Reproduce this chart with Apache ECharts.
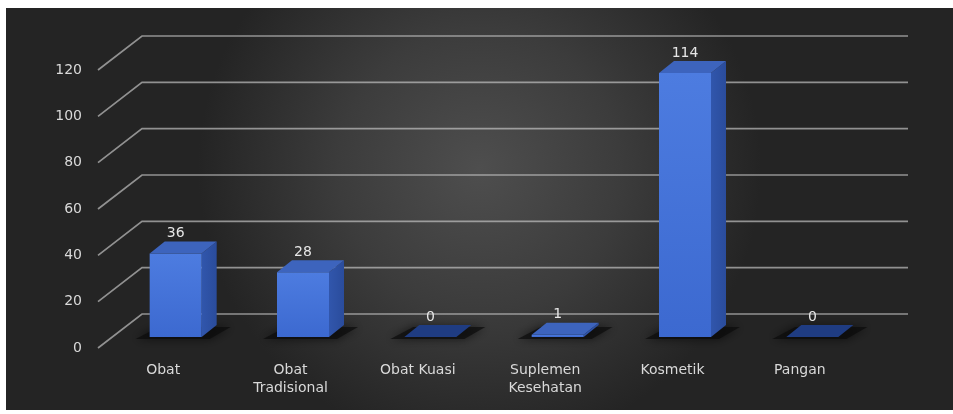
<!DOCTYPE html>
<html>
<head>
<meta charset="utf-8">
<script src="https://cdn.jsdelivr.net/npm/echarts@6/dist/echarts.min.js"></script>
<style>
  html, body { margin: 0; padding: 0; background: #ffffff; }
  #chart { width: 953px; height: 414px; }
</style>
</head>
<body>
<div id="chart"></div>
<script>
// Product categories and their counts
const categories = ['Obat', 'Obat\nTradisional', 'Obat Kuasi', 'Suplemen\nKesehatan', 'Kosmetik', 'Pangan'];
const counts = [36, 28, 0, 1, 114, 0];
const yTicks = [0, 20, 40, 60, 80, 100, 120];

// pseudo-3D offsets (pixels)
const DEPTH = [15, -12];        // bar depth
const WALL_BACK = [30, -23];    // from bar plane to back wall
const WALL_FRONT = [-14, 11];   // from bar plane to front edge of the floor
const BAR_W = 52;

const FONT = 'DejaVu Sans';
const TEXT_COLOR = '#d9d9d9';

const chart = echarts.init(document.getElementById('chart'));

function poly(points, style, z2) {
  return { type: 'polygon', shape: { points: points }, style: style, z2: z2 || 0 };
}

const option = {
  animation: false,
  backgroundColor: '#ffffff',
  graphic: [{
    type: 'rect',
    z: -10,
    shape: { x: 6, y: 8, width: 947, height: 402 },
    style: {
      fill: new echarts.graphic.RadialGradient(0.5, 0.4, 0.7, [
        { offset: 0, color: '#4e4e4e' },
        { offset: 0.5, color: '#3c3c3c' },
        { offset: 1, color: '#242424' }
      ])
    },
    silent: true
  }],
  grid: [
    // plane of the bar fronts
    { left: 112, right: 77, top: 59, bottom: 77 },
    // front edge of the floor, where the value ticks sit
    { left: 112 + WALL_FRONT[0], right: 77, top: 59 + WALL_FRONT[1], bottom: 77 - WALL_FRONT[1] }
  ],
  xAxis: [
    {
      type: 'category',
      gridIndex: 0,
      data: categories,
      axisLine: { show: false },
      axisTick: { show: false },
      axisLabel: {
        color: TEXT_COLOR,
        fontFamily: FONT,
        fontSize: 14,
        lineHeight: 18,
        margin: 24,
        padding: [0, 25, 0, 0]
      }
    },
    { type: 'category', gridIndex: 1, data: categories, show: false }
  ],
  yAxis: [
    {
      type: 'value',
      gridIndex: 0,
      min: 0, max: 120, interval: 20,
      show: false
    },
    {
      type: 'value',
      gridIndex: 1,
      min: 0, max: 120, interval: 20,
      axisLine: { show: false },
      axisTick: { show: false },
      splitLine: { show: false },
      axisLabel: {
        color: TEXT_COLOR,
        fontFamily: FONT,
        fontSize: 14,
        margin: 16
      }
    }
  ],
  series: [
    {
      // floor / back-wall gridlines
      type: 'custom',
      xAxisIndex: 0, yAxisIndex: 0,
      z: 1,
      silent: true,
      data: yTicks.map(v => [0, v]),
      renderItem: function (params, api) {
        const cs = params.coordSys;
        const y = api.coord([0, api.value(1)])[1];
        const fx = cs.x + WALL_FRONT[0], fy = y + WALL_FRONT[1];
        const bx = cs.x + WALL_BACK[0], by = y + WALL_BACK[1];
        const ex = cs.x + cs.width + 32;
        return {
          type: 'polyline',
          shape: { points: [[fx, fy], [bx, by], [ex, by]] },
          style: { stroke: 'rgba(205,205,205,0.65)', lineWidth: 1.7, fill: null }
        };
      }
    },
    {
      // 3D bars
      type: 'custom',
      xAxisIndex: 0, yAxisIndex: 0,
      z: 2,
      data: counts.map((v, i) => [i, v]),
      renderItem: function (params, api) {
        const i = api.value(0), v = api.value(1);
        const base = api.coord([i, 0]);
        const top = api.coord([i, v]);
        const xL = base[0] - BAR_W / 2, xR = base[0] + BAR_W / 2;
        const y0 = base[1], y1 = top[1];
        const dx = DEPTH[0], dy = DEPTH[1];
        const children = [];
        // soft shadow on the floor
        children.push(poly(
          [[xL - 14, y0 + 2], [xR + 8, y0 + 2], [xR + dx + 14, y0 + dy + 2], [xL + dx - 6, y0 + dy + 2]],
          { fill: 'rgba(12,12,12,0.7)', shadowBlur: 10, shadowColor: 'rgba(0,0,0,0.85)' }, 0));
        if (v > 0) {
          // front face
          children.push({
            type: 'rect', z2: 3,
            shape: { x: xL, y: y1, width: BAR_W, height: y0 - y1 },
            style: {
              fill: new echarts.graphic.LinearGradient(0, 0, 0, 1, [
                { offset: 0, color: '#4d7ce0' },
                { offset: 1, color: '#3c69d0' }
              ])
            }
          });
          // right side face
          children.push(poly(
            [[xR, y1], [xR + dx, y1 + dy], [xR + dx, y0 + dy], [xR, y0]],
            {
              fill: new echarts.graphic.LinearGradient(0, 0, 1, 0, [
                { offset: 0, color: '#3156ac' },
                { offset: 1, color: '#2a4c9c' }
              ])
            }, 2));
        }
        // top face
        children.push(poly(
          [[xL, y1], [xR, y1], [xR + dx, y1 + dy], [xL + dx, y1 + dy]],
          { fill: v > 0 ? '#3d64bd' : '#1f3c82' }, 4));
        // value label
        children.push({
          type: 'text', z2: 5,
          style: {
            text: String(v),
            x: base[0], y: y1 + dy - 8,
            align: 'center', verticalAlign: 'middle',
            fill: '#e6e6e6', font: '14px "' + FONT + '"'
          }
        });
        return { type: 'group', children: children };
      }
    }
  ]
};

chart.setOption(option);
</script>
</body>
</html>
